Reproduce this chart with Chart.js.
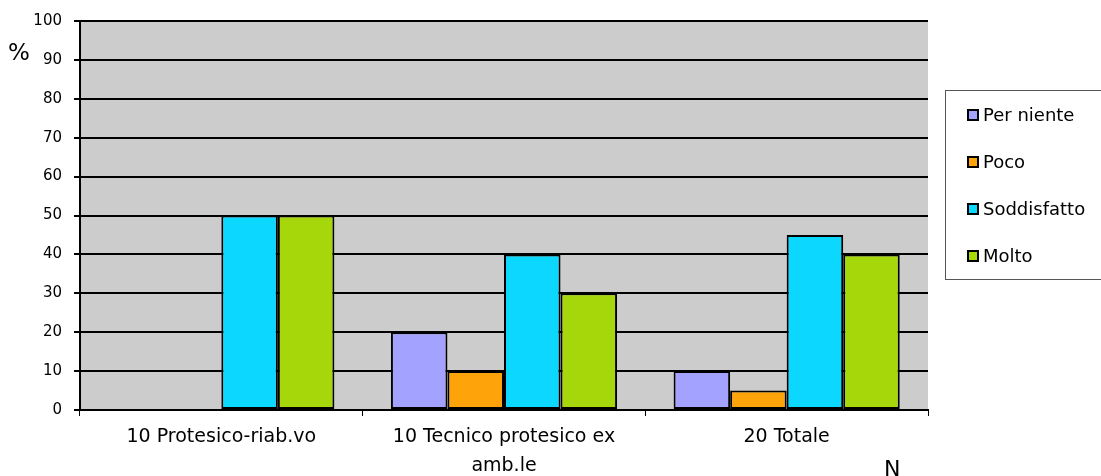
<!DOCTYPE html>
<html lang="en">
<head>
  <meta charset="UTF-8">
  <title>Soddisfazione</title>
  <script src="https://cdn.jsdelivr.net/npm/chart.js"></script>
  <style>
    html, body { margin: 0; padding: 0; background: #fff; }
    #wrap { position: relative; width: 1101px; height: 476px; }
  </style>
</head>
<body>
  <div id="wrap"><canvas id="chart" width="1101" height="476"></canvas></div>

  <script>
    const categories = ['10 Protesico-riab.vo', ['10 Tecnico protesico ex', 'amb.le'], '20 Totale'];
    const perNiente = [0, 20, 10];
    const poco = [0, 10, 5];
    const soddisfatto = [50, 40, 45];
    const molto = [50, 30, 40];
    const seriesNames = ['Per niente', 'Poco', 'Soddisfatto', 'Molto'];
    const colors = ['#a3a3ff', '#ffa30b', '#0bd7ff', '#a5d70b'];

    // grey plot background, legend box and axis captions
    const decor = {
      id: 'decor',
      beforeDraw(chart) {
        const { ctx, chartArea: a } = chart;
        ctx.save();
        ctx.fillStyle = '#cccccc';
        ctx.fillRect(a.left, a.top, a.right - a.left, a.bottom - a.top);
        ctx.restore();
      },
      afterDraw(chart) {
        const ctx = chart.ctx;
        ctx.save();
        ctx.fillStyle = '#000';
        ctx.textBaseline = 'alphabetic';
        ctx.font = '23px "DejaVu Sans"';
        ctx.fillText('%', 8, 60);
        ctx.font = '22px "DejaVu Sans"';
        ctx.fillText('N', 884, 476);

        // legend
        ctx.strokeStyle = '#555';
        ctx.lineWidth = 1;
        ctx.strokeRect(945.5, 90.5, 170, 189);
        ctx.font = '18px "DejaVu Sans"';
        ctx.textBaseline = 'middle';
        chart.data.datasets.forEach((ds, i) => {
          const y = 115 + i * 47;
          ctx.fillStyle = ds.backgroundColor;
          ctx.fillRect(968, y - 5, 10, 10);
          ctx.strokeStyle = '#000';
          ctx.lineWidth = 2;
          ctx.strokeRect(968, y - 5, 10, 10);
          ctx.fillStyle = '#000';
          ctx.fillText(ds.label, 983, y + 1);
        });
        ctx.restore();
      }
    };

    const values = [perNiente, poco, soddisfatto, molto];
    new Chart(document.getElementById('chart'), {
      type: 'bar',
      data: {
        labels: categories,
        datasets: seriesNames.map((name, i) => ({
          label: name,
          data: values[i],
          backgroundColor: colors[i],
          borderColor: '#000',
          borderWidth: 2,
          borderSkipped: false
        }))
      },
      options: {
        responsive: false,
        animation: false,
        layout: { padding: { left: 0, top: 20, right: 173, bottom: 0 } },
        plugins: { legend: { display: false }, tooltip: { enabled: false } },
        datasets: { bar: { categoryPercentage: 0.8, barPercentage: 1 } },
        scales: {
          x: {
            afterFit: s => { s.height = 66; },
            grid: { offset: true, drawOnChartArea: false, color: '#000', tickLength: 6 },
            border: { color: '#000', width: 2 },
            ticks: { color: '#000', font: { family: 'DejaVu Sans', size: 19, lineHeight: 1.5 }, padding: 7, maxRotation: 0, autoSkip: false }
          },
          y: {
            min: 0,
            max: 100,
            afterFit: s => { s.width = 80; },
            ticks: { stepSize: 10, color: '#000', font: { family: 'DejaVu Sans', size: 15 }, padding: 12 },
            grid: { color: '#000', lineWidth: 2, tickLength: 6 },
            border: { color: '#000', width: 2 }
          }
        }
      },
      plugins: [decor]
    });
  </script>
</body>
</html>
